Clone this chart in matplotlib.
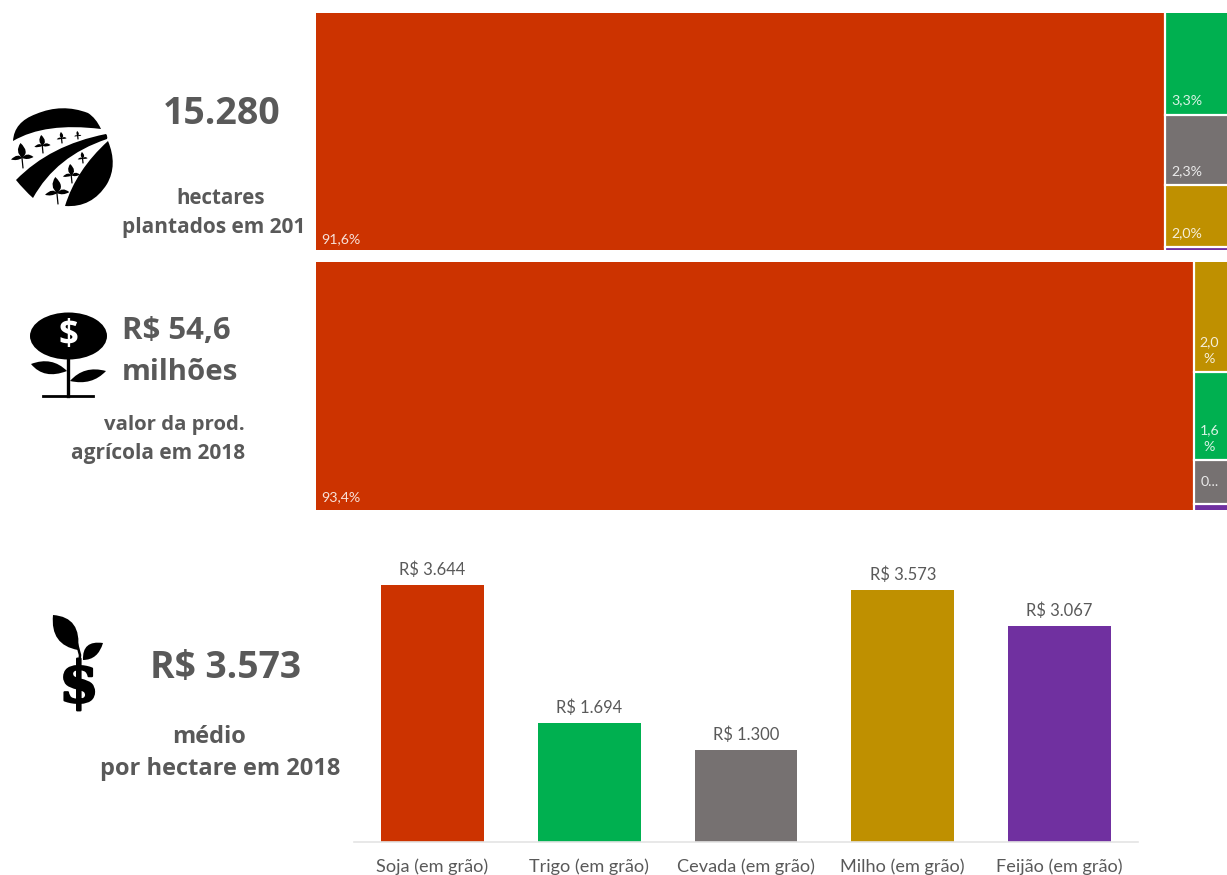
import matplotlib
matplotlib.use("Agg")
import matplotlib.pyplot as plt
import matplotlib.patheffects as pe
from matplotlib.patches import Ellipse, PathPatch, Rectangle
from matplotlib.path import Path

W, H = 1227, 875

# Share of planted area and of production value per crop (%)
area_names = ["Soja", "Trigo", "Cevada", "Milho", "Feijão"]
area_shares = [91.6, 3.3, 2.3, 2.0, 0.1]
area_labels = ["91,6%", "3,3%", "2,3%", "2,0%", ""]

value_names = ["Soja", "Milho", "Trigo", "Cevada", "Feijão"]
value_shares = [93.4, 2.0, 1.6, 0.8, 0.1]
value_labels = ["93,4%", "2,0\n%", "1,6\n%", "0...", ""]

# Average revenue per hectare (R$)
crops = ["Soja (em grão)", "Trigo (em grão)", "Cevada (em grão)", "Milho (em grão)", "Feijão (em grão)"]
revenue = [3644, 1694, 1300, 3573, 3067]
revenue_labels = ["R$ 3.644", "R$ 1.694", "R$ 1.300", "R$ 3.573", "R$ 3.067"]

colors = {"Soja": "#CC3300", "Trigo": "#00B050", "Cevada": "#767171",
          "Milho": "#BF9000", "Feijão": "#7030A0"}
bar_colors = [colors["Soja"], colors["Trigo"], colors["Cevada"], colors["Milho"], colors["Feijão"]]
TEXT = "#595959"
BOLD_FONT = "Open Sans"
LABEL_FONT = "Lato"

fig = plt.figure(figsize=(W / 100, H / 100), dpi=100, facecolor="white")


def px_axes(left, top, right, bottom):
    return fig.add_axes([left / W, 1 - bottom / H, (right - left) / W, (bottom - top) / H])


def treemap(top, bottom, shares, names, labels, main_inset):
    """One large cell on the left, the remaining crops stacked on the right."""
    total = sum(shares)
    full_width_px = 920  # the block runs past the right edge of the figure
    ax = px_axes(316, top, W, bottom)
    ax.set_xlim(0, total * (W - 316) / full_width_px)
    y_span = sum(shares[1:])
    ax.set_ylim(y_span, 0)
    ax.axis("off")
    px_x = full_width_px / total
    px_y = (bottom - top) / y_span
    label_style = dict(color="white", alpha=0.85, fontsize=10.2, family=LABEL_FONT)

    ax.add_patch(Rectangle((0, 0), shares[0], y_span, facecolor=colors[names[0]], edgecolor="none"))
    ax.text(5 / px_x, y_span - main_inset / px_y, labels[0], ha="left", va="bottom", **label_style)
    y = 0
    for share, name, label in zip(shares[1:], names[1:], labels[1:]):
        ax.add_patch(Rectangle((shares[0], y), total - shares[0], share,
                               facecolor=colors[name], edgecolor="none"))
        if "\n" in label:
            ax.text(shares[0] + 15.5 / px_x, y + share - 7 / px_y, label,
                    ha="center", va="bottom", linespacing=1.5, **label_style)
        elif label.endswith("..."):
            ax.text(shares[0] + 16 / px_x, y + share / 2, label, ha="center", va="center", **label_style)
        elif label:
            ax.text(shares[0] + 7 / px_x, y + share - 8 / px_y, label, ha="left", va="bottom", **label_style)
        y += share
        if y < y_span:
            ax.axhline(y, xmin=shares[0] / ax.get_xlim()[1], color="white", lw=1.6, zorder=3)
    ax.axvline(shares[0], color="white", lw=1.6, zorder=3)


treemap(13, 250, area_shares, area_names, area_labels, 5)
treemap(262, 510, value_shares, value_names, value_labels, 7)

# Revenue per hectare
bar_ax = px_axes(354, 540, 1138, 842)
bar_ax.bar(range(len(crops)), revenue, width=0.655, color=bar_colors)
bar_ax.set_xlim(-0.5, len(crops) - 0.5)
bar_ax.set_ylim(0, 3644 * 302 / 257)
bar_ax.set_xticks(range(len(crops)), crops)
bar_ax.set_yticks([])
bar_ax.tick_params(axis="x", length=0, pad=12, labelsize=13.1, labelcolor=TEXT)
for t in bar_ax.get_xticklabels():
    t.set_family(LABEL_FONT)
for side in ("top", "left", "right"):
    bar_ax.spines[side].set_visible(False)
bar_ax.spines["bottom"].set_color("#E4E4E4")
bar_ax.spines["bottom"].set_linewidth(1.2)
bar_ax.patch.set_alpha(0)
for i, (v, lab) in enumerate(zip(revenue, revenue_labels)):
    bar_ax.annotate(lab, (i, v), xytext=(0, 5), textcoords="offset points", ha="center", va="bottom",
                    fontsize=11.9, color=TEXT, family=LABEL_FONT)

# Overlay in pixel units for the headline figures and pictograms
ov = fig.add_axes([0, 0, 1, 1])
ov.set_xlim(0, W)
ov.set_ylim(H, 0)
ov.axis("off")
ov.patch.set_alpha(0)


def bold(x, y, s, size, ha="center"):
    ov.text(x, y, s, fontsize=size, fontweight="bold", color=TEXT, family=BOLD_FONT, ha=ha, va="center")


bold(221.5, 114, "15.280", 27)
bold(220.5, 198, "hectares", 14.8)
bold(214, 228, "plantados em 201", 15)
bold(122, 331, "R$ 54,6", 22.4, ha="left")
bold(122, 372, "milhões", 21.2, ha="left")
bold(174, 425, "valor da prod.", 14.7)
bold(158.5, 454, "agrícola em 2018", 15)
bold(226, 668, "R$ 3.573", 26.8)
bold(209, 737, "médio", 17)
bold(220.5, 769, "por hectare em 2018", 17)


def blob(points, color="black", zorder=5):
    """Closed shape from a start point followed by quadratic curve segments."""
    verts = [points[0]]
    codes = [Path.MOVETO]
    for ctrl, end in points[1:]:
        verts += [ctrl, end]
        codes += [Path.CURVE3, Path.CURVE3]
    verts.append(points[0])
    codes.append(Path.CLOSEPOLY)
    ov.add_patch(PathPatch(Path(verts, codes), facecolor=color, edgecolor="none", zorder=zorder))


def seedling(x, y, s):
    """Small three-leaf plant with its stem foot at (x, y), s is the height."""
    ov.plot([x, x - 0.05 * s], [y, y - 0.5 * s], color="black", lw=0.9, zorder=6, solid_capstyle="round")
    top = (x - 0.1 * s, y - s)
    mid = (x - 0.03 * s, y - 0.4 * s)
    blob([top, ((x + 0.28 * s, y - 0.65 * s), mid), ((x - 0.34 * s, y - 0.65 * s), top)], zorder=6)
    left = (x - 0.48 * s, y - 0.34 * s)
    blob([left, ((x - 0.2 * s, y - 0.62 * s), mid), ((x - 0.25 * s, y - 0.27 * s), left)], zorder=6)
    right = (x + 0.42 * s, y - 0.44 * s)
    blob([right, ((x + 0.15 * s, y - 0.66 * s), mid), ((x + 0.18 * s, y - 0.3 * s), right)], zorder=6)


# Field pictogram
blob([(13, 141), ((14, 122), (36, 114)), ((62, 103), (88, 113)), ((96, 118), (101, 129)),
      ((45, 122), (13, 141))])
blob([(16, 180), ((50, 145), (106, 134)), ((108, 136), (107, 139)), ((56, 156), (33, 198)),
      ((24, 190), (16, 180))])
blob([(65, 206), ((76, 170), (108, 141)), ((118, 165), (107, 184)), ((92, 208), (65, 206))])
for sx, sy, size in [(23, 168, 25), (43, 153, 18), (62, 143, 11), (78, 139, 8),
                     (58, 204, 27), (72, 183, 19), (83, 163, 11)]:
    seedling(sx, sy, size)

# Money flower pictogram
ov.add_patch(Ellipse((68.5, 336), 77, 47, facecolor="black", zorder=5))
ov.text(68.5, 336, "$", color="white", fontsize=25, fontweight="bold", family="Open Sans",
        ha="center", va="center", zorder=6)
ov.plot([68, 68], [355, 396], color="black", lw=2.4, zorder=5)
ov.plot([43, 93], [396, 396], color="black", lw=2.0, zorder=5)
blob([(31, 364), ((52, 356), (67, 371)), ((44, 380), (31, 364))])
blob([(106, 371), ((84, 365), (70, 381)), ((92, 386), (106, 371))])

# Dollar sprout pictogram
ov.text(79, 686, "$", color="black", fontsize=41, fontweight="bold", family="DejaVu Serif",
        ha="center", va="center", zorder=5,
        path_effects=[pe.withStroke(linewidth=1.6, foreground="black")])
ov.plot([76, 80, 79], [640, 655, 668], color="black", lw=1.8, zorder=5)
blob([(53, 615), ((82, 617), (78, 650)), ((50, 645), (53, 615))])
blob([(103, 643), ((82, 640), (83, 660)), ((98, 660), (103, 643))])

fig.savefig("out.png", dpi=100, facecolor="white")
